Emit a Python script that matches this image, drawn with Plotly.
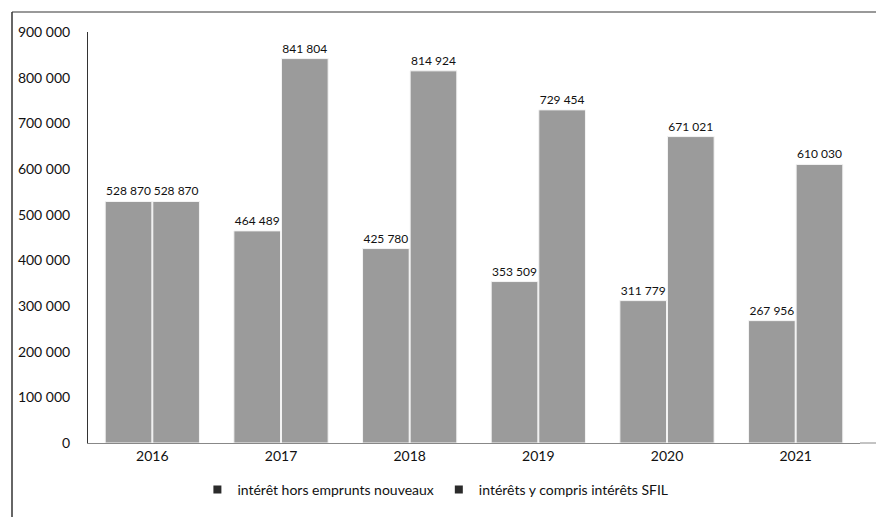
import plotly.graph_objects as go

years = ["2016", "2017", "2018", "2019", "2020", "2021"]
hors_emprunts = [528870, 464489, 425780, 353509, 311779, 267956]
avec_sfil = [528870, 841804, 814924, 729454, 671021, 610030]
series_names = ["intérêt hors emprunts nouveaux", "intérêts y compris intérêts SFIL"]
y_ticks = [0, 100000, 200000, 300000, 400000, 500000, 600000, 700000, 800000, 900000]

bar_color = "#9b9b9b"
legend_color = "#2b2b2b"
font_family = "Lato, Open Sans, sans-serif"

fig = go.Figure()
for name, vals in zip(series_names, [hors_emprunts, avec_sfil]):
    fig.add_trace(go.Bar(
        x=years, y=vals, name=name, showlegend=False,
        marker=dict(color=bar_color, line=dict(color="#f4f4f4", width=1)),
        texttemplate="%{y:,}", textposition="outside", constraintext="none",
        textfont=dict(size=12, color="#111111", family=font_family),
        cliponaxis=False,
    ))
for name in series_names:
    fig.add_trace(go.Scatter(
        x=[None], y=[None], mode="markers", name=name,
        marker=dict(symbol="square", size=8, color=legend_color),
    ))

# page has an 8px body margin; figure coordinates are page coordinates minus 8
OFF = 8
W, H = 884 - OFF, 517 - OFF
L, R, T, B = 88 - OFF, 24, 32 - OFF, 74
pw, ph = W - L - R, H - T - B

def px_x(x):
    return (x - OFF - L) / pw

def px_y(y):
    return (H - B - (y - OFF)) / ph

fig.update_layout(
    width=W, height=H,
    paper_bgcolor="white", plot_bgcolor="white",
    margin=dict(l=L, r=R, t=T, b=B, autoexpand=False),
    barmode="group", bargap=0.26, bargroupgap=0.02,
    separators=", ",
    font=dict(family=font_family, size=14, color="#111111"),
    showlegend=True,
    legend=dict(orientation="h", x=0.45, xanchor="center", y=px_y(490), yanchor="middle",
                font=dict(size=14), traceorder="normal", itemwidth=30),
    shapes=[
        dict(type="line", xref="paper", yref="paper", x0=px_x(12), x1=px_x(884), y0=px_y(12), y1=px_y(12),
             line=dict(color="#777777", width=1.5)),
        dict(type="line", xref="paper", yref="paper", x0=px_x(12), x1=px_x(12), y0=px_y(12), y1=px_y(517),
             line=dict(color="#333333", width=1.5)),
        dict(type="line", xref="paper", yref="paper", x0=1, x1=px_x(876), y0=0, y1=0,
             line=dict(color="#888888", width=1)),
    ],
)
fig.update_xaxes(showline=True, linecolor="#888888", linewidth=1, ticks="",
                 tickfont=dict(size=14), showgrid=False)
fig.update_yaxes(range=[0, 900000], tickvals=y_ticks, tickformat=",d",
                 showline=True, linecolor="#333333", linewidth=1, showgrid=False,
                 zeroline=False, ticks="", tickfont=dict(size=14), ticklabelstandoff=14)

fig.write_html("out.html")
